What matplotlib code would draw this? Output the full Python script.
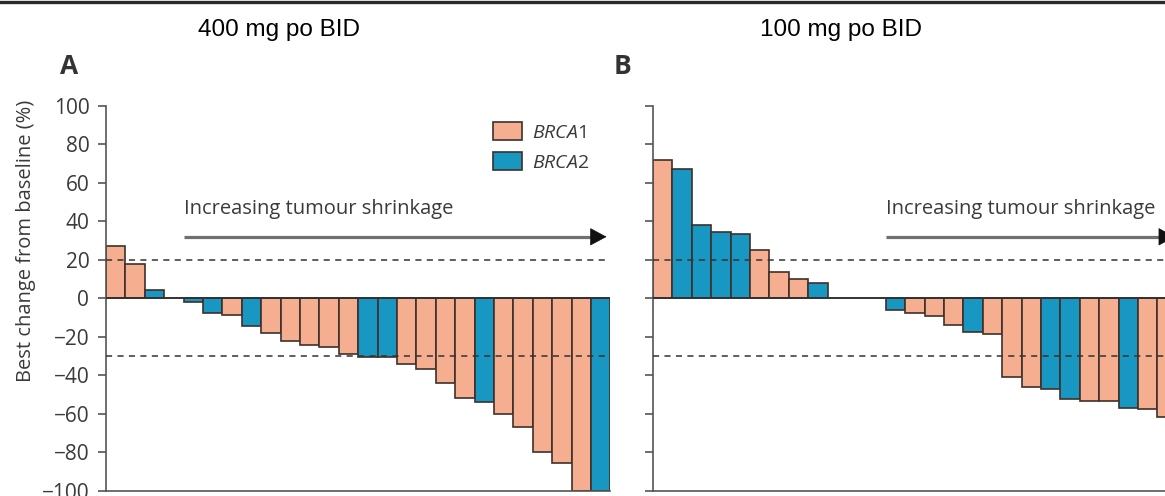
import numpy as np
import matplotlib.pyplot as plt
from matplotlib.lines import Line2D
from matplotlib.patches import Patch

plt.rcParams['font.family'] = ['Open Sans', 'DejaVu Sans']
plt.rcParams['mathtext.fontset'] = 'custom'
plt.rcParams['mathtext.rm'] = 'Open Sans'
plt.rcParams['mathtext.it'] = 'Open Sans:italic'

# panel A - 400 mg po BID
a_growth = [27, 18, 4.5]
a_growth_gene = ['BRCA1', 'BRCA1', 'BRCA2']
a_shrink = [-2, -7.5, -8.5, -14.5, -18, -22, -24.5, -25.5, -29, -30.5, -30.5, -34,
            -36.5, -44, -52, -54, -60, -67, -80, -85.5, -100, -100]
a_shrink_gene = ['BRCA2', 'BRCA2', 'BRCA1', 'BRCA2', 'BRCA1', 'BRCA1', 'BRCA1', 'BRCA1',
                 'BRCA1', 'BRCA2', 'BRCA2', 'BRCA1', 'BRCA1', 'BRCA1', 'BRCA1', 'BRCA2',
                 'BRCA1', 'BRCA1', 'BRCA1', 'BRCA1', 'BRCA1', 'BRCA2']

# panel B - 100 mg po BID (cut off at the right edge)
b_growth = [72, 67.5, 38, 34.5, 33.5, 25, 13.5, 10, 8]
b_growth_gene = ['BRCA1', 'BRCA2', 'BRCA2', 'BRCA2', 'BRCA2', 'BRCA1', 'BRCA1', 'BRCA1', 'BRCA2']
b_shrink = [-6, -7.5, -9.2, -14, -17.5, -18.3, -41, -46, -47, -52.5, -53.5, -53.5,
            -57, -57.5, -61.5]
b_shrink_gene = ['BRCA2', 'BRCA1', 'BRCA1', 'BRCA1', 'BRCA2', 'BRCA1', 'BRCA1', 'BRCA1',
                 'BRCA2', 'BRCA2', 'BRCA1', 'BRCA1', 'BRCA2', 'BRCA1', 'BRCA1']

yticks = [100, 80, 60, 40, 20, 0, -20, -40, -60, -80, -100]
titles = ['400 mg po BID', '100 mg po BID']
panel_letters = ['A', 'B']

colours = {'BRCA1': '#F5AE90', 'BRCA2': '#1897C3'}
edge = '#3e302a'
axis_col = '#555555'
text_col = '#3a3a3a'

fig = plt.figure(figsize=(11.65, 4.96), dpi=100)

slot_px = 19.4
ax_bottom = 5.3 / 496
ax_height = 384.7 / 496


def waterfall(ax, growth, growth_gene, shrink, shrink_gene, gap, n_slots, arrow_tip):
    vals = list(growth) + list(shrink)
    genes = list(growth_gene) + list(shrink_gene)
    x = np.concatenate([np.arange(len(growth)), len(growth) + gap + np.arange(len(shrink))])
    ax.bar(x + 0.5, vals, width=1.0, color=[colours[g] for g in genes],
           edgecolor=edge, linewidth=1.2, zorder=2)
    ax.set_xlim(0, n_slots)
    ax.set_ylim(-100, 100)
    ax.axhline(0, color='#333333', lw=1.4, zorder=3)
    ax.axhline(20, color='#333333', lw=1.1, ls=(0, (4, 3.5)), zorder=4)
    ax.axhline(-30, color='#333333', lw=1.1, ls=(0, (4, 3.5)), zorder=4)
    for s in ['top', 'right']:
        ax.spines[s].set_visible(False)
    for s in ['left', 'bottom']:
        ax.spines[s].set_color(axis_col)
        ax.spines[s].set_linewidth(1.2)
    ax.set_xticks([])
    ax.set_yticks(yticks)
    ax.tick_params(axis='y', length=6, width=1.2, color=axis_col, pad=6,
                   labelsize=15, labelcolor=text_col)
    # tumour shrinkage arrow
    start = len(growth) + gap
    ax.text(start, 44, 'Increasing tumour shrinkage', fontsize=14.5, color=text_col,
            ha='left', va='baseline')
    ax.plot([start, arrow_tip - 0.6], [32, 32], color='#707070', lw=2.3, zorder=3,
            solid_capstyle='butt')
    ax.annotate('', xy=(arrow_tip, 32), xytext=(arrow_tip - 0.7, 32),
                arrowprops=dict(arrowstyle='-|>,head_length=0.78,head_width=0.42',
                                color='#111111', lw=0.5, mutation_scale=14,
                                shrinkA=0, shrinkB=0))


# left panel
n_a = len(a_growth) + 1 + len(a_shrink)
ax1 = fig.add_axes([106 / 1165, ax_bottom, n_a * slot_px / 1165, ax_height])
waterfall(ax1, a_growth, a_growth_gene, a_shrink, a_shrink_gene, 1, n_a, n_a - 0.2)
ax1.set_ylabel('Best change from baseline (%)', fontsize=14.5, color=text_col)
ax1.yaxis.set_label_coords(-0.138, 0.649)

handles = [Patch(facecolor=colours['BRCA1'], edgecolor=edge, lw=1.2),
           Patch(facecolor=colours['BRCA2'], edgecolor=edge, lw=1.2)]
leg = ax1.legend(handles, [r'$\mathit{BRCA}$1', r'$\mathit{BRCA}$2'], loc='upper left',
                 bbox_to_anchor=(19.95, 91.5), bbox_transform=ax1.transData,
                 frameon=False, fontsize=14, handlelength=1.5, handleheight=1.0,
                 handletextpad=0.5, labelspacing=0.55, borderpad=0, borderaxespad=0)
for t in leg.get_texts():
    t.set_color(text_col)

# right panel, runs past the right edge of the picture
n_b = 27.2
ax2 = fig.add_axes([653 / 1165, ax_bottom, n_b * slot_px / 1165, ax_height])
waterfall(ax2, b_growth, b_growth_gene, b_shrink, b_shrink_gene, 3, n_b, 26.9)
ax2.set_yticklabels([])

# headings
fig.text(279 / 1165, 1 - 30 / 496, titles[0], ha='center', va='center',
         family='Liberation Sans', fontsize=17.5, color='black')
fig.text(841 / 1165, 1 - 30 / 496, titles[1], ha='center', va='center',
         family='Liberation Sans', fontsize=17.5, color='black')
fig.text(69 / 1165, 1 - 67 / 496, panel_letters[0], ha='center', va='center',
         fontsize=19, fontweight='bold', color='#333333')
fig.text(622 / 1165, 1 - 67 / 496, panel_letters[1], ha='center', va='center',
         fontsize=19, fontweight='bold', color='#333333')
fig.add_artist(Line2D([0, 1], [1 - 1.5 / 496, 1 - 1.5 / 496], color='#2a2a2a', lw=2.4))

fig.savefig('out.png', dpi=100)
